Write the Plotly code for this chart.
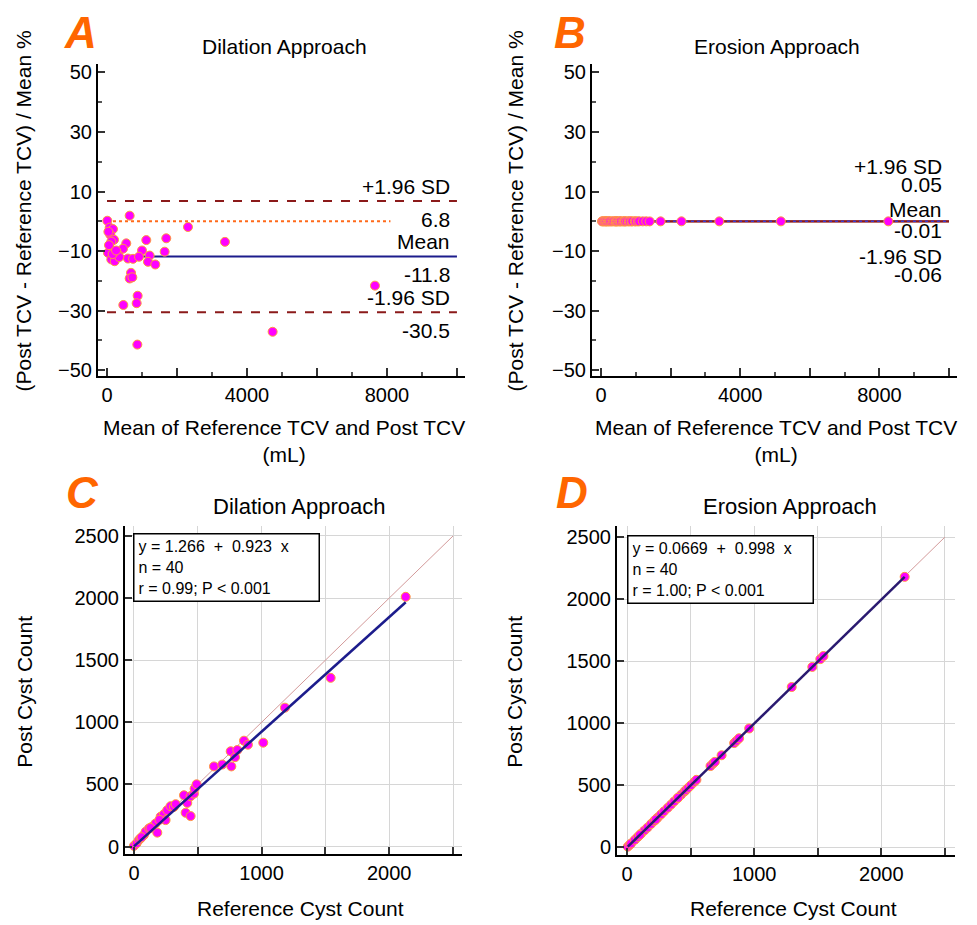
import plotly.graph_objects as go

W, H = 977, 925
FONT = "Liberation Sans, Arial, sans-serif"

# ---------------- Panel A data (Bland-Altman, dilation) ----------------
a_mean_x = [9, 648, 77, 171, 2314, 95, 200, 123, 551, 1123, 1694, 3371, 106, 457, 29,
            1000, 1648, 314, 600, 743, 914, 1219, 123, 220, 1171, 1380, 686, 648, 724,
            876, 848, 467, 7657, 4733, 867, 57, 350, 160, 40, 260]
a_diff_pct = [0.2, 1.9, -2.1, -2.6, -1.9, -4.5, -6.2, -6.8, -7.4, -6.3, -5.7, -6.9, -9.4,
              -9.2, -10.6, -9.8, -10.2, -11.1, -12.5, -12.6, -11.9, -11.5, -12.8, -13.4,
              -13.6, -14.5, -17.3, -19.2, -18.8, -25.0, -27.5, -28.1, -21.6, -37.1, -41.4,
              -8.0, -12.0, -11.0, -3.5, -9.8]
a_upper, a_mean, a_lower = 6.8, -11.8, -30.5

# ---------------- Panel B data (Bland-Altman, erosion) ----------------
b_mean_x = [30, 57, 90, 120, 150, 160, 200, 230, 260, 300, 343, 380, 420, 429, 450, 480,
            520, 550, 571, 620, 660, 686, 700, 750, 800, 829, 880, 900, 971, 1000, 1057,
            1100, 1200, 1300, 1400, 1714, 2314, 3400, 5171, 8257]
b_diff_pct = [-0.01, 0.00, -0.02, -0.01, 0.01, -0.01, -0.02, 0.00, -0.01, -0.03, -0.01,
              0.01, -0.02, -0.01, 0.00, -0.01, -0.02, 0.01, -0.01, -0.03, 0.00, -0.01,
              -0.02, -0.01, 0.01, -0.01, -0.02, 0.00, -0.01, -0.01, -0.02, 0.00, -0.01,
              -0.01, -0.02, -0.01, 0.00, -0.01, -0.01, -0.01]
b_upper, b_mean, b_lower = 0.05, -0.01, -0.06

# ---------------- Panel C data (cyst count, dilation) ----------------
c_ref = [0, 21, 39, 52, 78, 92, 118, 143, 170, 183, 209, 235, 248, 261, 287, 313, 327, 392,
         405, 418, 444, 444, 470, 475, 491, 627, 692, 758, 763, 792, 810, 862, 893, 1013,
         1183, 1541, 2129, 60, 130, 200]
c_post = [5, 26, 53, 66, 93, 120, 146, 160, 186, 112, 240, 261, 213, 293, 325, 319, 341, 413,
          272, 351, 405, 245, 426, 466, 501, 645, 660, 767, 645, 719, 777, 852, 820, 836,
          1118, 1358, 2010, 75, 150, 215]
c_intercept, c_slope = 1.266, 0.923

# ---------------- Panel D data (cyst count, erosion) ----------------
d_ref = [5, 20, 31, 60, 83, 110, 136, 160, 188, 212, 241, 267, 290, 319, 345, 370, 397, 424,
         450, 463, 480, 502, 528, 545, 656, 677, 690, 743, 842, 860, 881, 960, 1295, 1457,
         1520, 1545, 2184, 100, 225, 400]
d_post = [5, 20, 31, 60, 83, 110, 136, 159, 188, 212, 240, 266, 290, 318, 344, 370, 396, 423,
          449, 462, 479, 501, 527, 544, 655, 676, 689, 742, 840, 858, 879, 958, 1292, 1454,
          1517, 1542, 2180, 100, 224, 399]
d_intercept, d_slope = 0.0669, 0.998

stats_c = ["y = 1.266\u00a0\u00a0+\u00a0\u00a00.923\u00a0\u00a0x", "n = 40", "r = 0.99; P < 0.001"]
stats_d = ["y = 0.0669\u00a0\u00a0+\u00a0\u00a00.998\u00a0\u00a0x", "n = 40", "r = 1.00; P < 0.001"]

MARK = dict(color="#FF00FF", size=9, line=dict(color="#FF9A3C", width=1))
DRED = "#8B1A1A"
NAVY = "#1C1C8C"

fig = go.Figure()

# ---- Panel A ----
fig.add_trace(go.Scatter(x=[0, 10000], y=[a_upper] * 2, mode="lines", xaxis="x", yaxis="y",
                         line=dict(color=DRED, width=2, dash="dash")))
fig.add_trace(go.Scatter(x=[0, 10000], y=[a_lower] * 2, mode="lines", xaxis="x", yaxis="y",
                         line=dict(color=DRED, width=2, dash="dash")))
fig.add_trace(go.Scatter(x=[0, 8100], y=[0, 0], mode="lines", xaxis="x", yaxis="y",
                         line=dict(color="#FF6A1A", width=2, dash="dot")))
fig.add_trace(go.Scatter(x=[0, 10000], y=[a_mean] * 2, mode="lines", xaxis="x", yaxis="y",
                         line=dict(color=NAVY, width=2)))
fig.add_trace(go.Scatter(x=a_mean_x, y=a_diff_pct, mode="markers", xaxis="x", yaxis="y",
                         marker=MARK))

# ---- Panel B ----
fig.add_trace(go.Scatter(x=[0, 10000], y=[b_upper] * 2, mode="lines", xaxis="x2", yaxis="y2",
                         line=dict(color=DRED, width=2)))
fig.add_trace(go.Scatter(x=[0, 10000], y=[b_lower] * 2, mode="lines", xaxis="x2", yaxis="y2",
                         line=dict(color=DRED, width=2)))
fig.add_trace(go.Scatter(x=[0, 10000], y=[b_mean] * 2, mode="lines", xaxis="x2", yaxis="y2",
                         line=dict(color="#3A3AD0", width=1.5, dash="dot")))
fig.add_trace(go.Scatter(x=b_mean_x, y=b_diff_pct, mode="markers", xaxis="x2", yaxis="y2",
                         marker=MARK))

# ---- Panel C ----
fig.add_trace(go.Scatter(x=[0, 2500], y=[0, 2500], mode="lines", xaxis="x3", yaxis="y3",
                         line=dict(color="#D39A9A", width=1)))
c_x0, c_x1 = min(c_ref), max(c_ref)
fig.add_trace(go.Scatter(x=c_ref, y=c_post, mode="markers", xaxis="x3", yaxis="y3",
                         marker=MARK))
fig.add_trace(go.Scatter(x=[c_x0, c_x1], y=[c_intercept + c_slope * c_x0, c_intercept + c_slope * c_x1],
                         mode="lines", xaxis="x3", yaxis="y3", line=dict(color=NAVY, width=2.5)))

# ---- Panel D ----
fig.add_trace(go.Scatter(x=[0, 2500], y=[0, 2500], mode="lines", xaxis="x4", yaxis="y4",
                         line=dict(color="#D39A9A", width=1)))
d_x0, d_x1 = min(d_ref), max(d_ref)
fig.add_trace(go.Scatter(x=d_ref, y=d_post, mode="markers", xaxis="x4", yaxis="y4",
                         marker=MARK))
fig.add_trace(go.Scatter(x=[d_x0, d_x1], y=[d_intercept + d_slope * d_x0, d_intercept + d_slope * d_x1],
                         mode="lines", xaxis="x4", yaxis="y4", line=dict(color="#2A1A70", width=2.5)))


def px_x(p):
    return p / W


def px_y(p):
    return 1 - p / H


tickfont = dict(family=FONT, size=20, color="black")

ba_x = dict(range=[-257, 10230], showline=True, linecolor="black", linewidth=2,
            ticks="inside", ticklen=8, tickwidth=1.5, tickcolor="#333",
            tickvals=[0, 2000, 4000, 6000, 8000, 10000],
            ticktext=["0", "", "4000", "", "8000", ""],
            minor=dict(dtick=1000, tick0=0, ticks="inside", ticklen=4, tickcolor="#555"),
            showgrid=False, zeroline=False, tickfont=tickfont)
ba_y = dict(range=[-52, 53], showline=True, linecolor="black", linewidth=2,
            ticks="inside", ticklen=7, tickwidth=1.5, tickcolor="#333",
            tickvals=[-50, -30, -10, 10, 30, 50],
            minor=dict(dtick=10, tick0=0, ticks="inside", ticklen=4, tickcolor="#555"),
            showgrid=False, zeroline=False, tickfont=tickfont)

cc_common = dict(showline=True, linecolor="black", linewidth=2, ticks="inside", ticklen=7,
                 tickwidth=1.5, tickcolor="#333", showgrid=True, gridcolor="#D6D6D6",
                 gridwidth=1, zeroline=False, tickfont=tickfont)
cc_x = dict(tickvals=[0, 500, 1000, 1500, 2000, 2500],
            ticktext=["0", "", "1000", "", "2000", ""], **cc_common)
cc_y = dict(tickvals=[0, 500, 1000, 1500, 2000, 2500], **cc_common)

fig.update_layout(
    width=W, height=H, margin=dict(l=0, r=0, t=0, b=0),
    paper_bgcolor="white", plot_bgcolor="white", showlegend=False,
    font=dict(family=FONT, color="black"),
    xaxis=dict(domain=[px_x(98), px_x(465)], anchor="y", **ba_x),
    yaxis=dict(domain=[px_y(377), px_y(62)], anchor="x", **ba_y),
    xaxis2=dict(domain=[px_x(592), px_x(957)], anchor="y2", **ba_x),
    yaxis2=dict(domain=[px_y(377), px_y(62)], anchor="x2", **ba_y),
    xaxis3=dict(domain=[px_x(125), px_x(462)], anchor="y3", range=[-70, 2570], **cc_x),
    yaxis3=dict(domain=[px_y(859), px_y(528)], anchor="x3", range=[-64, 2580], **cc_y),
    xaxis4=dict(domain=[px_x(617), px_x(955)], anchor="y4", range=[-80, 2580], **cc_x),
    yaxis4=dict(domain=[px_y(860), px_y(528)], anchor="x4", range=[-66, 2590], **cc_y),
)

ann = []


def paper_text(text, x, y, size, angle=0, xanchor="center", yanchor="middle", **kw):
    ann.append(dict(text=text, x=px_x(x), y=px_y(y), xref="paper", yref="paper",
                    showarrow=False, textangle=angle, xanchor=xanchor, yanchor=yanchor,
                    font=dict(family=FONT, size=size, color=kw.pop("color", "black")), **kw))


# panel letters
for letter, x, y in [("A", 80, 31), ("B", 570, 31), ("C", 82, 494), ("D", 572, 494)]:
    paper_text(f"<b><i>{letter}</i></b>", x, y, 44, color="#FF6600")

# titles
paper_text("Dilation Approach", 284, 45, 21)
paper_text("Erosion Approach", 777, 45, 21)
paper_text("Dilation Approach", 299, 508, 22)
paper_text("Erosion Approach", 790, 508, 22)

# axis titles
ytitle_ba = "(Post TCV - Reference TCV) / Mean %"
xtitle_ba = "Mean of Reference TCV and Post TCV<br>(mL)"
paper_text(ytitle_ba, 23, 211, 21, angle=-90)
paper_text(ytitle_ba, 515, 211, 21, angle=-90)
paper_text(xtitle_ba, 284, 442, 21)
paper_text(xtitle_ba, 776, 442, 21)
paper_text("Reference Cyst Count", 300, 913, 21)
paper_text("Reference Cyst Count", 793, 913, 21)
paper_text("Post Cyst Count", 25, 695, 21, angle=-90)
paper_text("Post Cyst Count", 515, 695, 21, angle=-90)

# Bland-Altman line labels
def line_label(text, xa, ya, yval, shift):
    ann.append(dict(text=text, x=9850, y=yval, xref=xa, yref=ya, showarrow=False,
                    xanchor="right", yanchor="middle", yshift=shift,
                    font=dict(family=FONT, size=21, color="black")))


line_label("+1.96 SD", "x", "y", a_upper, 15)
line_label(f"{a_upper}", "x", "y", a_upper, -18)
line_label("Mean", "x", "y", a_mean, 15)
line_label(f"{a_mean}", "x", "y", a_mean, -18)
line_label("-1.96 SD", "x", "y", a_lower, 15)
line_label(f"{a_lower}", "x", "y", a_lower, -18)

line_label("+1.96 SD", "x2", "y2", 0, 55)
line_label(f"{b_upper:.2f}", "x2", "y2", 0, 37)
line_label("Mean", "x2", "y2", 0, 12)
line_label(f"{b_mean:.2f}", "x2", "y2", 0, -9)
line_label("-1.96 SD", "x2", "y2", 0, -35)
line_label(f"{b_lower:.2f}", "x2", "y2", 0, -53)

# stats boxes
for lines, x0, y0 in [(stats_c, 133, 535), (stats_d, 627, 537)]:
    ann.append(dict(text="<br>".join(lines), x=px_x(x0), y=px_y(y0), xref="paper", yref="paper",
                    showarrow=False, xanchor="left", yanchor="top", align="left",
                    width=176, height=58, borderpad=4, bordercolor="black", borderwidth=1.5,
                    bgcolor="white", font=dict(family=FONT, size=16, color="black")))

fig.update_layout(annotations=ann)
fig.write_html("out.html")
